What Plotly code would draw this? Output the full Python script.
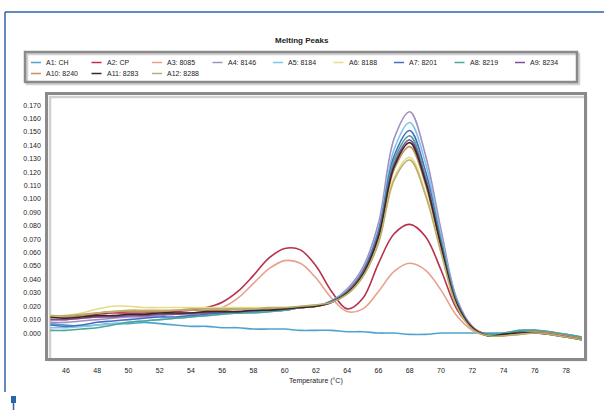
import plotly.graph_objects as go

# ---------------- data ----------------
TEMPS = [45, 46, 47, 48, 49, 50, 51, 52, 53, 54, 55, 56, 57, 58, 59, 60, 61, 62,
         63, 64, 65, 66, 67, 68, 69, 70, 71, 72, 73, 74, 75, 76, 77, 78, 79]

SERIES_NAMES = ["A1: CH", "A2: CP", "A3: 8085", "A4: 8146", "A5: 8184", "A6: 8188",
                "A7: 8201", "A8: 8219", "A9: 8234", "A10: 8240", "A11: 8283", "A12: 8288"]

A1 = [0.007, 0.006, 0.005, 0.006, 0.007, 0.007, 0.008, 0.007, 0.006, 0.005, 0.005, 0.004,
      0.004, 0.003, 0.003, 0.003, 0.002, 0.002, 0.002, 0.001, 0.001, 0.000, 0.000, -0.001,
      -0.001, 0.000, 0.000, 0.000, 0.000, 0.000, 0.001, 0.001, 0.000, -0.001, -0.003]
A2 = [0.012, 0.012, 0.013, 0.014, 0.015, 0.015, 0.015, 0.016, 0.016, 0.017, 0.019, 0.023,
      0.031, 0.043, 0.056, 0.063, 0.062, 0.050, 0.031, 0.018, 0.026, 0.052, 0.074, 0.081,
      0.072, 0.047, 0.018, 0.004, -0.001, -0.001, 0.000, 0.000, -0.001, -0.002, -0.004]
A3 = [0.010, 0.010, 0.011, 0.012, 0.013, 0.013, 0.014, 0.014, 0.015, 0.015, 0.016, 0.019,
      0.026, 0.037, 0.048, 0.054, 0.052, 0.041, 0.026, 0.016, 0.018, 0.031, 0.046, 0.052,
      0.047, 0.032, 0.013, 0.002, -0.002, -0.002, -0.001, 0.000, -0.001, -0.003, -0.005]
A4 = [0.008, 0.008, 0.009, 0.010, 0.011, 0.012, 0.012, 0.013, 0.014, 0.014, 0.015, 0.015,
      0.016, 0.016, 0.017, 0.017, 0.019, 0.020, 0.024, 0.033, 0.049, 0.082, 0.145, 0.165,
      0.133, 0.077, 0.026, 0.005, -0.002, -0.001, 0.001, 0.001, 0.000, -0.002, -0.004]
A5 = [0.004, 0.004, 0.005, 0.006, 0.007, 0.008, 0.009, 0.010, 0.011, 0.012, 0.013, 0.014,
      0.015, 0.016, 0.016, 0.017, 0.019, 0.020, 0.024, 0.032, 0.047, 0.078, 0.137, 0.157,
      0.127, 0.073, 0.025, 0.004, -0.002, -0.001, 0.002, 0.002, 0.001, -0.001, -0.004]
A6 = [0.012, 0.013, 0.015, 0.018, 0.020, 0.020, 0.019, 0.019, 0.019, 0.019, 0.019, 0.019,
      0.019, 0.019, 0.019, 0.019, 0.020, 0.021, 0.023, 0.029, 0.042, 0.068, 0.116, 0.131,
      0.105, 0.061, 0.021, 0.003, -0.002, -0.002, 0.000, 0.001, 0.000, -0.002, -0.004]
A7 = [0.006, 0.005, 0.006, 0.008, 0.009, 0.010, 0.011, 0.012, 0.012, 0.013, 0.014, 0.015,
      0.015, 0.016, 0.017, 0.017, 0.019, 0.020, 0.024, 0.031, 0.046, 0.076, 0.132, 0.151,
      0.121, 0.069, 0.024, 0.004, -0.002, -0.001, 0.001, 0.002, 0.000, -0.002, -0.005]
A8 = [0.002, 0.002, 0.003, 0.004, 0.006, 0.008, 0.009, 0.010, 0.011, 0.012, 0.013, 0.014,
      0.015, 0.015, 0.016, 0.017, 0.019, 0.020, 0.023, 0.031, 0.045, 0.074, 0.129, 0.147,
      0.117, 0.068, 0.023, 0.004, -0.001, 0.000, 0.002, 0.002, 0.001, -0.001, -0.003]
A9 = [0.010, 0.010, 0.011, 0.012, 0.012, 0.013, 0.013, 0.014, 0.014, 0.015, 0.015, 0.016,
      0.016, 0.017, 0.017, 0.018, 0.019, 0.020, 0.023, 0.031, 0.045, 0.073, 0.126, 0.144,
      0.115, 0.066, 0.022, 0.004, -0.002, -0.001, 0.000, 0.001, 0.000, -0.002, -0.004]
A10 = [0.011, 0.012, 0.013, 0.015, 0.016, 0.016, 0.016, 0.016, 0.017, 0.017, 0.017, 0.017,
       0.018, 0.018, 0.018, 0.018, 0.019, 0.020, 0.023, 0.030, 0.044, 0.071, 0.122, 0.139,
       0.111, 0.064, 0.022, 0.004, -0.002, -0.002, 0.000, 0.001, 0.000, -0.002, -0.004]
A11 = [0.012, 0.011, 0.012, 0.013, 0.013, 0.014, 0.014, 0.015, 0.015, 0.015, 0.016, 0.016,
       0.016, 0.017, 0.017, 0.018, 0.019, 0.020, 0.023, 0.030, 0.044, 0.072, 0.124, 0.142,
       0.113, 0.065, 0.022, 0.004, -0.002, -0.001, 0.000, 0.000, -0.001, -0.003, -0.005]
A12 = [0.013, 0.013, 0.014, 0.015, 0.016, 0.017, 0.017, 0.017, 0.017, 0.018, 0.018, 0.018,
       0.018, 0.018, 0.019, 0.019, 0.020, 0.021, 0.023, 0.029, 0.042, 0.067, 0.114, 0.129,
       0.103, 0.060, 0.020, 0.003, -0.002, -0.002, -0.001, 0.000, -0.001, -0.003, -0.005]

SERIES_VALUES = [A1, A2, A3, A4, A5, A6, A7, A8, A9, A10, A11, A12]
SERIES_COLORS = ["#4fa3d1", "#b8304a", "#e8a08c", "#a090c0", "#80c4e8", "#e6dc8c",
                 "#4a6cc0", "#4aa89a", "#7d4f9e", "#c4925c", "#3c2626", "#b8b070"]

X_TICKS = [46, 48, 50, 52, 54, 56, 58, 60, 62, 64, 66, 68, 70, 72, 74, 76, 78]
Y_TICKS = [0.000, 0.010, 0.020, 0.030, 0.040, 0.050, 0.060, 0.070, 0.080, 0.090,
           0.100, 0.110, 0.120, 0.130, 0.140, 0.150, 0.160, 0.170]

# ---------------- layout geometry (pixels) ----------------
W, H = 604, 410
L, R, T, B = 48, 584, 95, 358
PW, PH = R - L, B - T


def px(x):
    return (x - L) / PW


def py(y):
    return (B - y) / PH


FONT = "Liberation Sans, Arial, sans-serif"

fig = go.Figure()
for name, vals, col in zip(SERIES_NAMES, SERIES_VALUES, SERIES_COLORS):
    fig.add_trace(go.Scatter(x=TEMPS, y=vals, mode="lines", name=name,
                             line=dict(color=col, width=1.6, shape="spline", smoothing=1.0),
                             showlegend=False))

shapes = []
annotations = []

# outer blue border
shapes.append(dict(type="line", xref="paper", yref="paper", x0=px(5), x1=px(606),
                   y0=py(12), y1=py(12), line=dict(color="#2f63a8", width=1.5)))
shapes.append(dict(type="line", xref="paper", yref="paper", x0=px(5), x1=px(5),
                   y0=py(12), y1=py(392), line=dict(color="#2f63a8", width=1.5)))
shapes.append(dict(type="rect", xref="paper", yref="paper", x0=px(11), x1=px(16),
                   y0=py(396), y1=py(403), fillcolor="#2f63a8", line=dict(width=0)))
shapes.append(dict(type="line", xref="paper", yref="paper", x0=px(13.5), x1=px(13.5),
                   y0=py(403), y1=py(410), line=dict(color="#2f63a8", width=1.5)))

# legend box with shadow
shapes.append(dict(type="rect", xref="paper", yref="paper", x0=px(27), x1=px(579),
                   y0=py(54), y1=py(84), line=dict(color="#d0d0d0", width=2.5), layer="below"))
shapes.append(dict(type="rect", xref="paper", yref="paper", x0=px(25), x1=px(577),
                   y0=py(52), y1=py(82), line=dict(color="#8a8a8a", width=2.5)))

# plot frame shadow
shapes.append(dict(type="rect", xref="paper", yref="paper", x0=px(L + 2), x1=px(R + 2),
                   y0=py(B + 2), y1=py(T + 2), line=dict(color="#d0d0d0", width=2.5),
                   layer="below"))

# manual legend entries
for i, (name, col) in enumerate(zip(SERIES_NAMES, SERIES_COLORS)):
    row, colm = divmod(i, 9)
    x0 = 31 + colm * 60.5
    yy = 62.5 + row * 11
    shapes.append(dict(type="line", xref="paper", yref="paper", x0=px(x0), x1=px(x0 + 10),
                       y0=py(yy), y1=py(yy), line=dict(color=col, width=1.5)))
    annotations.append(dict(text=name, xref="paper", yref="paper", x=px(x0 + 13), y=py(yy),
                            xanchor="left", yanchor="middle", showarrow=False,
                            font=dict(family=FONT, size=7, color="#222")))

# title
annotations.append(dict(text="<b>Melting Peaks</b>", xref="paper", yref="paper",
                        x=px(302), y=py(40), xanchor="center", yanchor="middle",
                        showarrow=False, font=dict(family=FONT, size=8, color="#222")))
# x-axis title
annotations.append(dict(text="Temperature (°C)", xref="paper", yref="paper",
                        x=px(316), y=py(381), xanchor="center", yanchor="middle",
                        showarrow=False, font=dict(family=FONT, size=7, color="#222")))

fig.update_layout(
    width=W, height=H,
    margin=dict(l=L, r=W - R, t=T, b=H - B, pad=0),
    paper_bgcolor="white", plot_bgcolor="white",
    shapes=shapes, annotations=annotations,
    showlegend=False,
    font=dict(family=FONT, size=7, color="#222"),
)
fig.update_xaxes(range=[44.85, 79.15], tickvals=X_TICKS, ticktext=[str(v) for v in X_TICKS],
                 showgrid=False, zeroline=False, showline=True, mirror=True,
                 linecolor="#8a8a8a", linewidth=2.5, ticks="", ticklabelstandoff=4,
                 tickfont=dict(family=FONT, size=7, color="#222"))
fig.update_yaxes(range=[-0.0186, 0.1775], tickvals=Y_TICKS,
                 ticktext=[f"{v:.3f}" for v in Y_TICKS],
                 showgrid=False, zeroline=False, showline=True, mirror=True,
                 linecolor="#8a8a8a", linewidth=2.5, ticks="", ticklabelstandoff=3,
                 tickfont=dict(family=FONT, size=7, color="#222"))

fig.write_html("out.html", config={"displayModeBar": False},
               post_script="document.body.style.margin='0';")
